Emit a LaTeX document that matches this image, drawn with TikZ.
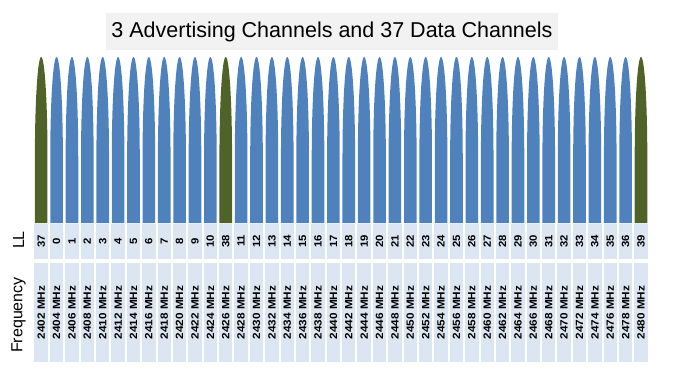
\documentclass[tikz,border=0pt]{standalone}
\usepackage{fontspec}
\setmainfont{Liberation Sans}
\usetikzlibrary{positioning}

\definecolor{datablue}{RGB}{79,129,189}
\definecolor{advgreen}{RGB}{79,98,40}
\definecolor{cellblue}{RGB}{220,230,242}
\definecolor{titlegray}{RGB}{242,242,242}

\begin{document}
\begin{tikzpicture}[x=1pt,y=1pt]
  \tikzset{cell/.style={fill=cellblue, inner sep=0pt, rotate=90,
      minimum height=13.4pt, font=\bfseries\fontsize{10.5}{11}\selectfont},
    llcell/.style={cell, minimum width=35pt},
    freqcell/.style={cell, minimum width=99pt},
    rowlabel/.style={rotate=90, inner sep=0pt, font=\fontsize{16}{18}\selectfont}}
  \useasboundingbox (0,0) rectangle (680,368);

  \node[fill=titlegray, minimum width=452pt, minimum height=37pt,
    font=\fontsize{21.5}{24}\selectfont] (title) at (332,336.5)
    {3 Advertising Channels and 37 Data Channels};

  % one column per channel
  \foreach \lab [count=\i from 0] in {37,0,1,2,3,4,5,6,7,8,9,10,38,11,12,13,
      14,15,16,17,18,19,20,21,22,23,24,25,26,27,28,29,30,31,32,33,34,35,36,39} {
    \pgfmathsetmacro\xc{33.5+15.38*(\i+0.5)}
    \pgfmathtruncatemacro\freq{2402+2*\i}
    \ifnum\i=0 \def\barcol{advgreen}\else
      \ifnum\i=12 \def\barcol{advgreen}\else
        \ifnum\i=39 \def\barcol{advgreen}\else \def\barcol{datablue}\fi\fi\fi
    \fill[\barcol] (\xc-6.3,145) -- (\xc-6.3,211)
      arc[start angle=180, end angle=0, x radius=6.3, y radius=100]
      -- (\xc+6.3,145) -- cycle;
    \node[llcell] (ll\i) at (\xc,127) {\scalebox{1.08}[1]{\lab}};
    \node[freqcell] (f\i) at (\xc,55.5) {\scalebox{1.12}[1]{\freq{} MHz}};
  }

  \node[rowlabel] (lllabel) at (18.5,128) {LL};
  \node[rowlabel] (freqlabel) at (18.5,53) {Frequency};
\end{tikzpicture}
\end{document}
